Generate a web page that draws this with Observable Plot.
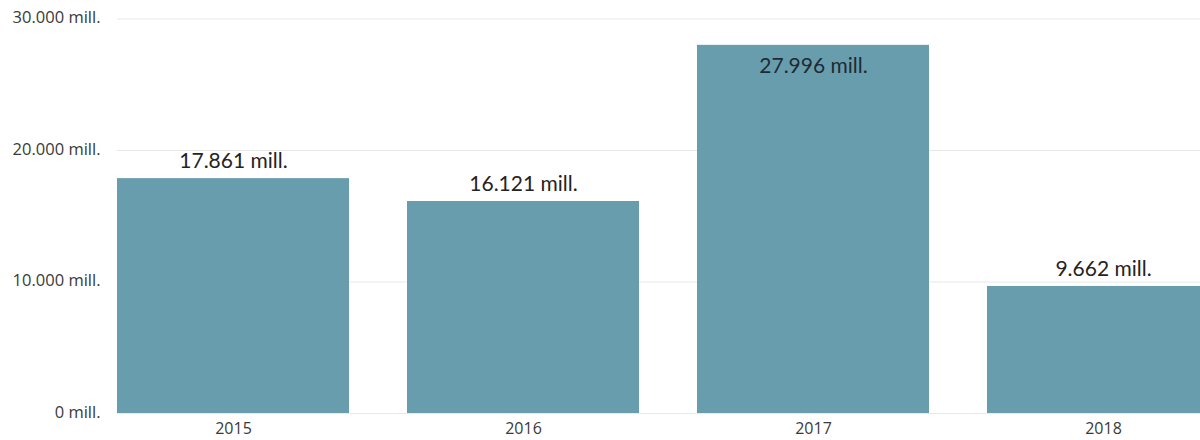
<!DOCTYPE html>
<html>
<head>
<meta charset="utf-8">
<script src="https://cdn.jsdelivr.net/npm/d3@7"></script>
<script src="https://cdn.jsdelivr.net/npm/@observablehq/plot@0.6"></script>
<style>
  html, body { margin: 0; padding: 0; background: #fff; overflow: hidden; }
  #chart svg { display: block; }
</style>
</head>
<body>
<div id="chart"></div>
<script>
const years = ["2015", "2016", "2017", "2018"];
const values = [17861, 16121, 27996, 9662]; // millions
const yTicks = [0, 10000, 20000, 30000];

const loc = d3.formatLocale({decimal: ",", thousands: ".", grouping: [3], currency: ["", ""]});
const fmt = loc.format(",d");
const label = v => `${fmt(v)} mill.`;

const yMax = 30000;
const data = years.map((year, i) => ({year, value: values[i], inside: values[i] > yMax * 0.88}));

const chart = Plot.plot({
  width: 1200,
  height: 440,
  marginTop: 18.5,
  marginBottom: 27,
  marginLeft: 117,
  marginRight: 0,
  style: {background: "#fff", overflow: "visible"},
  x: {domain: years, range: [117, 1219], paddingInner: 0.2, paddingOuter: 0, label: null},
  y: {domain: [0, yMax], label: null},
  marks: [
    Plot.ruleY(yTicks, {stroke: "#e8e8e8", strokeWidth: 1}),
    Plot.barY(data, {x: "year", y: "value", fill: "#689dae"}),
    Plot.text(data.filter(d => !d.inside), {
      x: "year", y: "value", text: d => label(d.value), dy: -17,
      fontSize: 21, fill: "#252423", fontFamily: "Lato"
    }),
    Plot.text(data.filter(d => d.inside), {
      x: "year", y: "value", text: d => label(d.value), dy: 21,
      fontSize: 21, fill: "#1e2b33", fontFamily: "Lato"
    }),
    Plot.axisY({ticks: yTicks, tickSize: 0, tickPadding: 17, tickFormat: label,
      fontSize: 16.5, fill: "#3a3a3a", fontFamily: "Open Sans", dy: -1}),
    Plot.axisX({tickSize: 0, tickPadding: 9, fontSize: 16, fill: "#3a3a3a", fontFamily: "Open Sans"})
  ]
});
document.getElementById("chart").appendChild(chart);
</script>
</body>
</html>
